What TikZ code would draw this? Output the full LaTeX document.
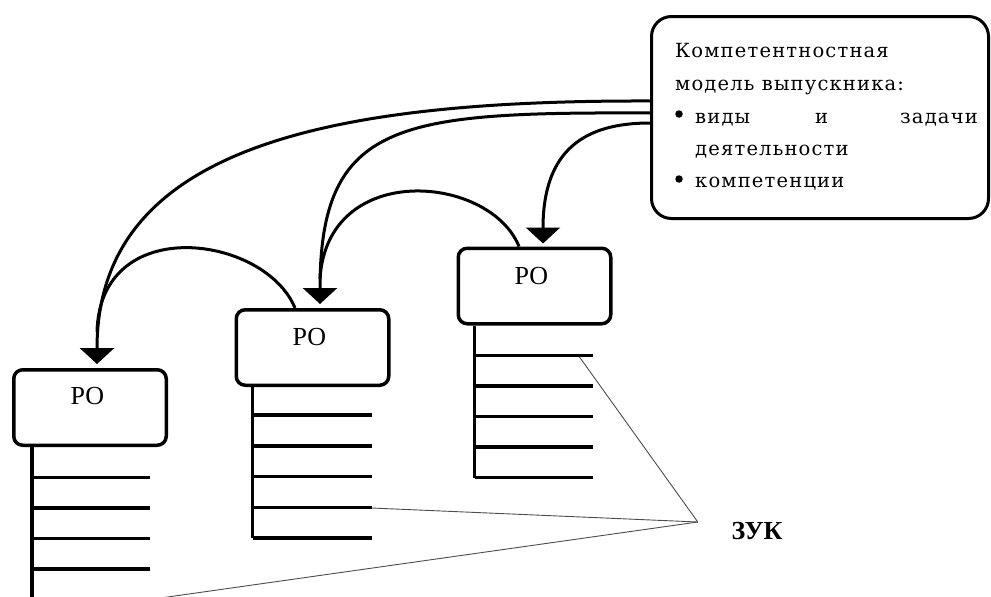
\documentclass[tikz,border=0pt]{standalone}
\usepackage{fontspec}
\setmainfont{Liberation Serif}
\newfontfamily\boxfont[LetterSpace=6]{DejaVu Serif}
\usetikzlibrary{arrows.meta,calc}
\begin{document}
\begin{tikzpicture}[x=1pt,y=-1pt,
  rbox/.style={draw, line width=3.5pt, rounded corners=9pt, minimum width=152.5pt, minimum height=75.5pt, inner sep=0pt},
  mainbox/.style={draw, line width=3pt, rounded corners=20pt, minimum width=337pt, minimum height=202pt, inner sep=0pt},
  lbl/.style={font=\fontsize{26}{28}\selectfont, inner sep=0pt},
  btext/.style={font=\boxfont\fontsize{19.5}{22}\selectfont, anchor=base west, inner sep=0pt},
  bul/.style={circle, fill, inner sep=0pt, minimum size=7.5pt},
  tick/.style={line width=3.5pt},
  flow/.style={line width=3pt, -{Triangle[width=34pt,length=16pt]}},
  arcline/.style={line width=3pt},
  leader/.style={line width=0.9pt, black!70}]
\useasboundingbox (0,0) rectangle (991,597);
\clip (0,0) rectangle (991,597);

% main box
\node[mainbox] (big) at (820,117.5) {};
\node[btext] (l1) at (675,57) {Компетентностная};
\node[btext] (l2) at (675,90) {модель выпускника:};
\node[bul] (bu1) at (679,114) {};
\node[btext] (l3a) at (695,123) {виды};
\node[btext] (l3b) at (815,123) {и};
\node[btext] (l3c) at (900,123) {задачи};
\node[btext] (l4) at (695,155) {деятельности};
\node[bul] (bu2) at (679,179) {};
\node[btext] (l5) at (695,187) {компетенции};

% small boxes
\node[rbox] (b1) at (90,407.5) {};
\node[rbox] (b2) at (312.5,347.5) {};
\node[rbox] (b3) at (534.5,286) {};
\node[lbl] (p1) at (87.5,396.5) {РО};
\node[lbl] (p2) at (309.5,337) {РО};
\node[lbl] (p3) at (531.5,276.5) {РО};

% ticks box 1
\draw[tick] ($(b1.south west)+(20,0)$) -- ($(b1.south west)+(20,160)$);
\foreach \k in {1,...,5}
  \draw[tick] ($(b1.south west)+(20,30.5*\k)$) -- ($(b1.south west)+(138,30.5*\k)$);
% ticks box 2
\draw[tick] ($(b2.south west)+(18,0)$) -- ($(b2.south west)+(18,151)$);
\foreach \k in {0,...,4}
  \draw[tick] ($(b2.south west)+(18,28+30.75*\k)$) -- ($(b2.south west)+(137,28+30.75*\k)$);
% ticks box 3
\draw[tick] ($(b3.south west)+(18,0)$) -- ($(b3.south west)+(18,152)$);
\foreach \k in {0,...,4}
  \draw[tick] ($(b3.south west)+(18,30+30.5*\k)$) -- ($(b3.south west)+(136,30+30.5*\k)$);

% ZUK label and leaders
\node[lbl, font=\fontsize{26}{28}\selectfont\bfseries] (zuk) at (757,531) {ЗУК};
\coordinate (apex) at ($(zuk.west)+(-33.5,-9)$);
\coordinate (z3) at ($(b3.south west)+(123,31.5)$);
\coordinate (z2) at ($(b2.south west)+(137,121)$);
\coordinate (z1) at ($(b1.south west)+(138,152.5)$);
\draw[leader] (z3) -- (apex);
\draw[leader] (z2) -- (apex);
\draw[leader] (apex) -- (z1);

% arrows from main box
\coordinate (s1) at ($(big.west)+(0,-16.5)$);
\coordinate (s2) at ($(big.west)+(0,-4.5)$);
\coordinate (s3) at ($(big.west)+(0,5.5)$);
\coordinate (t1) at ($(b1.north)+(7,-4)$);
\coordinate (t2) at ($(b2.north)+(7.5,-4)$);
\coordinate (t3) at ($(b3.north)+(8.5,-3)$);
\draw[flow] (s1) .. controls ($(s1)+(-330,-1)$) and ($(t1)+(0,-214)$) .. (t1);
\draw[flow] (s2) .. controls ($(s2)+(-250,-1)$) and ($(t2)+(0,-184)$) .. (t2);
\draw[flow] (s3) .. controls ($(s3)+(-65,0)$) and ($(t3)+(0,-94)$) .. (t3);

% arcs between boxes
\coordinate (a1) at ($(b2.north)+(-17.5,0)$);
\coordinate (e1) at ($(t1)+(0,-32)$);
\coordinate (a2) at ($(b3.north)+(-15.5,0)$);
\coordinate (e2) at ($(t2)+(0,-25)$);
\draw[arcline] (a1) .. controls ($(a1)+(-30,-73)$) and ($(e1)+(3,-120)$) .. (e1);
\draw[arcline] (a2) .. controls ($(a2)+(-29,-72)$) and ($(e2)+(7,-119)$) .. (e2);
\end{tikzpicture}
\end{document}
